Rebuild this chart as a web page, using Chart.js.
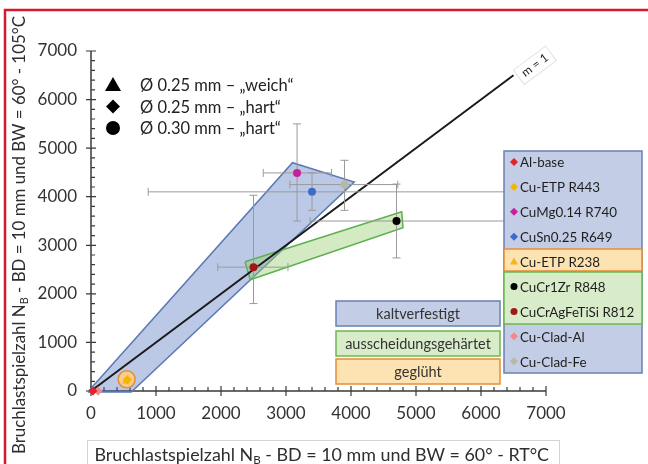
<!DOCTYPE html>
<html>
<head>
<meta charset="utf-8">
<script src="https://cdn.jsdelivr.net/npm/chart.js@4.4.1/dist/chart.umd.min.js"></script>
<style>
  html, body { margin: 0; padding: 0; background: #fff; }
  canvas { display: block; }
</style>
</head>
<body>
<canvas id="chart" width="648" height="464"></canvas>
<script>
// data
const seriesNames = ['Al-base', 'Cu-ETP R443', 'CuMg0.14 R740', 'CuSn0.25 R649', 'Cu-ETP R238',
                     'CuCr1Zr R848', 'CuCrAgFeTiSi R812', 'Cu-Clad-Al', 'Cu-Clad-Fe'];
const seriesColors = ['#e42228', '#f4b400', '#c8209a', '#3c6cc8', '#f2b51a',
                      '#000000', '#a01818', '#f08a8a', '#b8b8a8'];
const pointShapes  = ['rectRot', 'rectRot', 'circle', 'circle', 'triangle', 'circle', 'circle', 'rectRot', 'circle'];
const legendShapes = ['rectRot', 'rectRot', 'rectRot', 'rectRot', 'triangle', 'circle', 'circle', 'rectRot', 'rectRot'];
const xRT   = [30, 560, 3170, 3400, 540, 4700, 2500, 110, 3900];
const y105  = [0, 230, 4490, 4100, 200, 3500, 2550, 0, 4250];
const xLow  = [null, null, 2650, 880, null, 3370, 1950, null, 3060];
const xHigh = [null, null, 3700, 6450, null, 6450, 3030, null, 4720];
const yLow  = [null, null, 3500, 3720, null, 2740, 1800, null, 3720];
const yHigh = [null, null, 5500, 4490, null, 4260, 4030, null, 4750];

const axisTicks = [0, 1000, 2000, 3000, 4000, 5000, 6000, 7000];
const minorStep = 200;

const kaltPoly = [[-50, -20], [3100, 4700], [4050, 4300], [620, -20], [-50, -20]];
const ausPoly  = [[2370, 2660], [2450, 2290], [4800, 3360], [4780, 3690], [2370, 2660]];
const glueCenter = [549, 240];
const slopeLine = [[0, 0], [6500, 6500]];

const groupLabels = ['kaltverfestigt', 'ausscheidungsgehärtet', 'geglüht'];
const markerLegend = ['Ø 0.25 mm – „weich“', 'Ø 0.25 mm – „hart“', 'Ø 0.30 mm – „hart“'];
const xTitle = [['Bruchlastspielzahl N', false], ['B', true], [' - BD = 10 mm und BW = 60° - RT°C', false]];
const yTitle = [['Bruchlastspielzahl N', false], ['B', true], [' - BD = 10 mm und BW = 60° - 105°C', false]];

const FONT = 'Lato, "Open Sans", sans-serif';
const BLUE_FILL = '#c4cde6', BLUE_LINE = '#6a80b2';
const GREEN_FILL = '#d9ecc9', GREEN_LINE = '#6cb652';
const ORANGE_FILL = '#fde3b2', ORANGE_LINE = '#e58d36';

function drawMarker(ctx, shape, x, y, r, color) {
    ctx.save();
    ctx.fillStyle = color;
    ctx.beginPath();
    if (shape === 'triangle') {
        ctx.moveTo(x, y - r);
        ctx.lineTo(x + r, y + r * 0.75);
        ctx.lineTo(x - r, y + r * 0.75);
    } else if (shape === 'rectRot') {
        ctx.moveTo(x, y - r);
        ctx.lineTo(x + r, y);
        ctx.lineTo(x, y + r);
        ctx.lineTo(x - r, y);
    } else {
        ctx.arc(x, y, r, 0, Math.PI * 2);
    }
    ctx.closePath();
    ctx.fill();
    ctx.restore();
}

// text with subscript parts, scaled so the whole line is `width` wide
function drawParts(ctx, parts, width, x, y) {
    const measure = size => parts.reduce((w, p) => {
        ctx.font = (p[1] ? size * 0.65 : size) + 'px ' + FONT;
        return w + ctx.measureText(p[0]).width;
    }, 0);
    const size = 16 * width / measure(16);
    const sub = size * 0.65;
    let cx = x - width / 2;
    ctx.textAlign = 'left';
    ctx.textBaseline = 'middle';
    parts.forEach(p => {
        ctx.font = (p[1] ? sub : size) + 'px ' + FONT;
        ctx.fillText(p[0], cx, y + (p[1] ? size * 0.28 : 0));
        cx += ctx.measureText(p[0]).width;
    });
}

function box(ctx, x, y, w, h, fill, line) {
    ctx.fillStyle = fill;
    ctx.fillRect(x, y, w, h);
    ctx.strokeStyle = line;
    ctx.lineWidth = 1.5;
    ctx.strokeRect(x, y, w, h);
}

const decorPlugin = {
    id: 'decor',
    beforeDraw(chart) {
        const ctx = chart.ctx;
        ctx.save();
        ctx.fillStyle = '#fff';
        ctx.fillRect(0, 0, chart.width, chart.height);
        ctx.strokeStyle = '#d7192b';
        ctx.lineWidth = 2.5;
        ctx.beginPath();
        ctx.moveTo(5, 464);
        ctx.lineTo(5, 10);
        ctx.lineTo(648, 10);
        ctx.stroke();
        ctx.restore();
    },
    beforeDatasetsDraw(chart) {
        // axis lines with crossing major ticks and inner minor ticks
        const ctx = chart.ctx, xs = chart.scales.x, ys = chart.scales.y;
        const x0 = xs.getPixelForValue(0), y0 = ys.getPixelForValue(0);
        ctx.save();
        ctx.strokeStyle = '#3a3a3a';
        ctx.lineWidth = 1.5;
        ctx.beginPath();
        ctx.moveTo(xs.getPixelForValue(7000), y0);
        ctx.lineTo(x0, y0);
        ctx.lineTo(x0, ys.getPixelForValue(7000));
        ctx.stroke();
        ctx.lineWidth = 1.2;
        ctx.beginPath();
        for (let v = 0; v <= 7000; v += minorStep) {
            const major = v % 1000 === 0;
            const px = xs.getPixelForValue(v), py = ys.getPixelForValue(v);
            ctx.moveTo(px, y0 + (major ? 5 : 0));
            ctx.lineTo(px, y0 - (major ? 5 : 4));
            ctx.moveTo(x0 - (major ? 5 : 0), py);
            ctx.lineTo(x0 + (major ? 5 : 4), py);
        }
        ctx.stroke();
        ctx.restore();
    },
    afterDatasetDraw(chart, args) {
        if (chart.data.datasets[args.index].label !== 'm = 1') return;
        const ctx = chart.ctx, xs = chart.scales.x, ys = chart.scales.y;
        ctx.save();
        ctx.strokeStyle = '#9a9a9a';
        ctx.lineWidth = 1;
        ctx.beginPath();
        for (let i = 0; i < seriesNames.length; i++) {
            const px = xs.getPixelForValue(xRT[i]), py = ys.getPixelForValue(y105[i]);
            if (xLow[i] !== null) {
                const a = xs.getPixelForValue(xLow[i]), b = xs.getPixelForValue(xHigh[i]);
                ctx.moveTo(a, py); ctx.lineTo(b, py);
                ctx.moveTo(a, py - 4); ctx.lineTo(a, py + 4);
                ctx.moveTo(b, py - 4); ctx.lineTo(b, py + 4);
            }
            if (yLow[i] !== null) {
                const a = ys.getPixelForValue(yLow[i]), b = ys.getPixelForValue(yHigh[i]);
                ctx.moveTo(px, a); ctx.lineTo(px, b);
                ctx.moveTo(px - 4, a); ctx.lineTo(px + 4, a);
                ctx.moveTo(px - 4, b); ctx.lineTo(px + 4, b);
            }
        }
        ctx.stroke();
        ctx.restore();
    },
    afterDraw(chart) {
        const ctx = chart.ctx, xs = chart.scales.x, ys = chart.scales.y;
        ctx.save();

        // m = 1 label along the line
        const ax = xs.getPixelForValue(slopeLine[0][0]), ay = ys.getPixelForValue(slopeLine[0][1]);
        const bx = xs.getPixelForValue(slopeLine[1][0]), by = ys.getPixelForValue(slopeLine[1][1]);
        const ang = Math.atan2(by - ay, bx - ax);
        ctx.save();
        ctx.translate(xs.getPixelForValue(6830), ys.getPixelForValue(6830) + 6);
        ctx.rotate(ang);
        ctx.fillStyle = '#fff';
        ctx.fillRect(-20, -9, 40, 18);
        ctx.strokeStyle = '#e2e2e2';
        ctx.lineWidth = 1;
        ctx.strokeRect(-20, -9, 40, 18);
        ctx.fillStyle = '#222';
        ctx.font = '12px ' + FONT;
        ctx.textAlign = 'center';
        ctx.textBaseline = 'middle';
        ctx.fillText('m = 1', 0, 0);
        ctx.restore();

        // wire diameter legend
        const mShapes = ['triangle', 'rectRot', 'circle'];
        const mSizes = [8, 7, 7];
        ctx.font = '16.5px ' + FONT;
        ctx.textAlign = 'left';
        ctx.textBaseline = 'middle';
        markerLegend.forEach((t, i) => {
            const yy = 85 + i * 21.5;
            drawMarker(ctx, mShapes[i], 113, yy, mSizes[i], '#000');
            ctx.fillStyle = '#222';
            ctx.fillText(t, 140, yy + 1);
        });

        // material legend
        box(ctx, 504, 151, 138, 222, BLUE_FILL, BLUE_LINE);
        box(ctx, 504, 249, 138, 22, ORANGE_FILL, ORANGE_LINE);
        box(ctx, 504, 272, 138, 52, GREEN_FILL, GREEN_LINE);
        ctx.font = '13.4px ' + FONT;
        ctx.textAlign = 'left';
        ctx.textBaseline = 'middle';
        seriesNames.forEach((n, i) => {
            const yy = 162 + i * 24.9;
            drawMarker(ctx, legendShapes[i], 514, yy, legendShapes[i] === 'circle' ? 3.5 : 4, seriesColors[i]);
            ctx.fillStyle = '#1e1e1e';
            ctx.fillText(n, 520, yy + 1);
        });

        // group boxes
        const gFill = [BLUE_FILL, GREEN_FILL, ORANGE_FILL];
        const gLine = [BLUE_LINE, GREEN_LINE, ORANGE_LINE];
        const gTop = [301, 331, 359];
        groupLabels.forEach((g, i) => {
            box(ctx, 336, gTop[i], 164, 25, gFill[i], gLine[i]);
            ctx.fillStyle = '#333';
            ctx.font = '14.5px ' + FONT;
            ctx.textAlign = 'center';
            ctx.fillText(g, 418, gTop[i] + 13);
        });

        // axis titles
        ctx.strokeStyle = '#d4d4d4';
        ctx.lineWidth = 1;
        ctx.strokeRect(87.5, 440.5, 472, 30);
        ctx.fillStyle = '#2e2e2e';
        drawParts(ctx, xTitle, 455, 322, 455);
        ctx.save();
        ctx.translate(20, 235);
        ctx.rotate(-Math.PI / 2);
        drawParts(ctx, yTitle, 438, 0, 0);
        ctx.restore();

        ctx.restore();
    }
};

const pts = arr => arr.map(p => ({ x: p[0], y: p[1] }));

const datasets = [
    {
        type: 'line', label: 'kaltverfestigt', data: pts(kaltPoly), order: 12,
        borderColor: '#5b79b5', borderWidth: 1.5, backgroundColor: 'rgba(70,105,185,0.36)',
        fill: 'shape', pointRadius: 0, tension: 0, clip: false
    },
    {
        type: 'line', label: 'ausscheidungsgehärtet', data: pts(ausPoly), order: 11,
        borderColor: '#5cb050', borderWidth: 1.5, backgroundColor: 'rgba(150,205,110,0.42)',
        fill: 'shape', pointRadius: 0, tension: 0, clip: false
    },
    {
        type: 'scatter', label: 'geglüht', data: [{ x: glueCenter[0], y: glueCenter[1] }], order: 10,
        pointRadius: 8.5, backgroundColor: 'rgba(252,205,130,0.9)', borderColor: '#e58d36', borderWidth: 1.5,
        pointStyle: 'circle', clip: false
    },
    {
        type: 'line', label: 'm = 1', data: pts(slopeLine), order: 9,
        borderColor: '#1a1a1a', borderWidth: 2, pointRadius: 0, fill: false, clip: false
    }
];
seriesNames.forEach((n, i) => {
    datasets.push({
        type: 'scatter', label: n, data: [{ x: xRT[i], y: y105[i] }], order: 0,
        pointStyle: pointShapes[i], pointRadius: pointShapes[i] === 'circle' ? 4 : 4.5,
        backgroundColor: seriesColors[i], borderColor: seriesColors[i], borderWidth: 0, clip: false
    });
});

const tickFont = { family: FONT, size: 17 };

new Chart(document.getElementById('chart').getContext('2d'), {
    type: 'scatter',
    data: { datasets: datasets },
    options: {
        responsive: false,
        devicePixelRatio: 1,
        animation: false,
        events: [],
        layout: { padding: { left: 0, right: 102, top: 51, bottom: 0 } },
        plugins: { legend: { display: false }, tooltip: { enabled: false } },
        scales: {
            x: {
                type: 'linear', min: 0, max: 7000,
                afterBuildTicks: s => { s.ticks = axisTicks.map(v => ({ value: v })); },
                afterFit: s => { s.height = 73; },
                grid: { display: false, drawTicks: false },
                border: { display: false },
                ticks: { padding: 12, font: tickFont, color: '#333', maxRotation: 0, callback: v => String(v) }
            },
            y: {
                type: 'linear', min: 0, max: 7000,
                afterBuildTicks: s => { s.ticks = axisTicks.map(v => ({ value: v })); },
                afterFit: s => { s.width = 91; },
                grid: { display: false, drawTicks: false },
                border: { display: false },
                ticks: { padding: 14, font: tickFont, color: '#333', callback: v => String(v) }
            }
        }
    },
    plugins: [decorPlugin]
});
</script>
</body>
</html>
